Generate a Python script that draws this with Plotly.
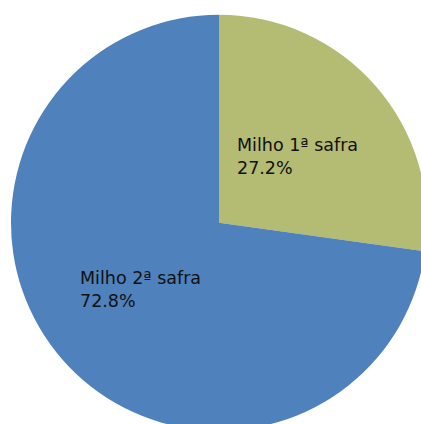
import plotly.graph_objects as go

# Data
labels = ["Milho 1ª safra", "Milho 2ª safra"]
shares = [27.2, 72.8]
colors = ["#B4BB72", "#4F81BD"]

W, H = 430, 440
FONT = "DejaVu Sans"

# label anchor positions (pixels from top-left)
label_pos = [(235, 133), (78, 266)]


def px(x, y):
    return x / W, 1 - y / H


fig = go.Figure(go.Pie(
    labels=labels,
    values=shares,
    marker=dict(colors=colors, line=dict(width=0)),
    sort=False,
    direction="clockwise",
    rotation=0,
    textinfo="none",
    hoverinfo="none",
    showlegend=False,
    domain=dict(x=[11 / W, 427 / W], y=[1 - 430.7 / H, 1 - 14.7 / H]),
))

for lab, val, (x, y) in zip(labels, shares, label_pos):
    ax, ay = px(x, y)
    fig.add_annotation(
        x=ax, y=ay, xref="paper", yref="paper",
        xanchor="left", yanchor="top", align="left",
        text=f"{lab}<br>{val:.1f}%",
        showarrow=False,
        font=dict(family=FONT, size=17.5, color="#111111"),
    )

fig.update_layout(
    width=W, height=H,
    margin=dict(l=0, r=0, t=0, b=0),
    paper_bgcolor="white",
    plot_bgcolor="white",
)

fig.write_html(
    "out.html",
    config={"displayModeBar": False},
    post_script="document.body.style.margin='0';document.body.style.overflow='hidden';",
)
